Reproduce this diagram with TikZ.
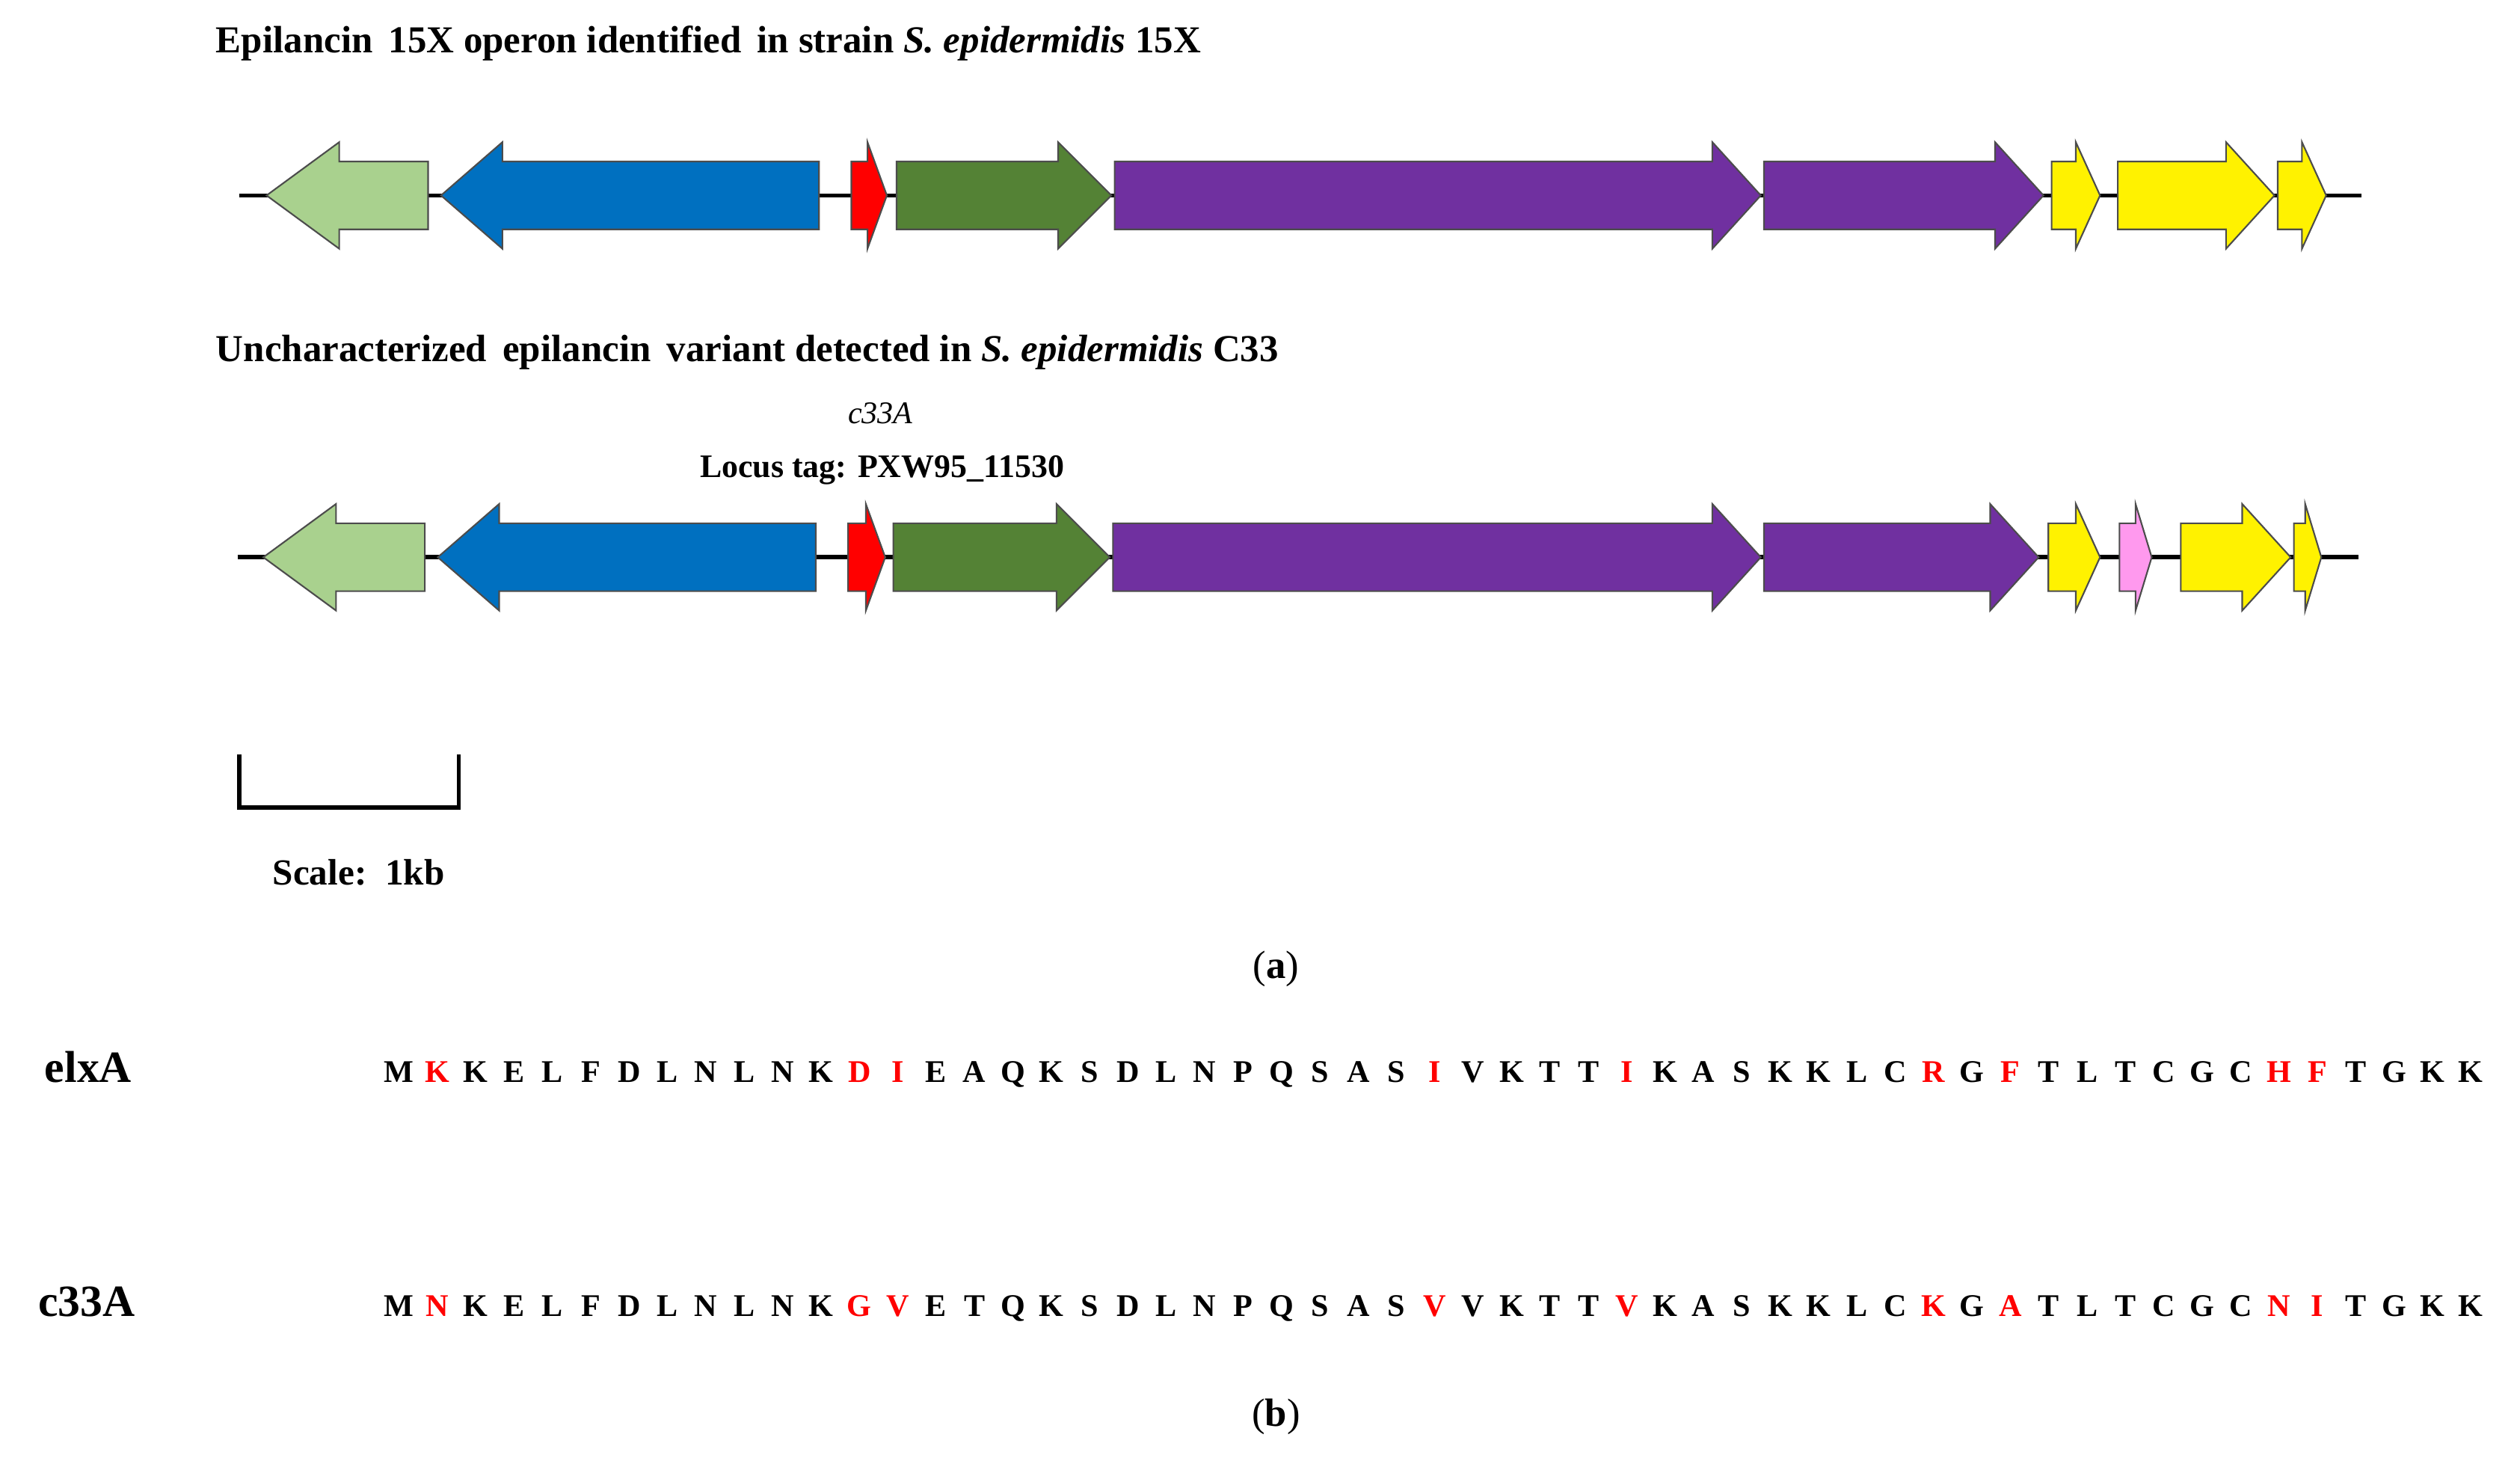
\documentclass[tikz,border=0pt]{standalone}
\usepackage{fontspec}
\setmainfont{Liberation Serif}
\usetikzlibrary{positioning}
\definecolor{lgreen}{HTML}{A9D18E}
\definecolor{oblue}{HTML}{0070C0}
\definecolor{dgreen}{HTML}{548235}
\definecolor{opurple}{HTML}{7030A0}
\definecolor{opink}{HTML}{FF99EE}
\newcommand\R{\color{red}}
% gene arrow: name, start, tip, row y, colour, head length
\newcommand\gene[6]{%
  \path[draw=black!70,fill=#5,line width=0.6pt] (#2,#4-21) coordinate (#1) -- ({#3-(#6)},#4-21) -- ({#3-(#6)},#4-33)
    -- (#3,#4) -- ({#3-(#6)},#4+33) -- ({#3-(#6)},#4+21) -- (#2,#4+21) -- cycle;}
\tikzset{title/.style={anchor=west,font=\bfseries\fontsize{14.5}{16}\selectfont},
  seq/.style={font=\bfseries\fontsize{12}{14}\selectfont,anchor=base},
  lab/.style={font=\bfseries\fontsize{17}{19}\selectfont,anchor=base west}}
\begin{document}
\begin{tikzpicture}[x=0.0216cm,y=-0.0216cm]
\useasboundingbox (0,0) rectangle (1560,906);
\node[title] (t1) at (128,27) {Epilancin\, 15X operon identified\, in strain \textit{S. epidermidis} 15X};
\node[title] (t2) at (128,218) {Uncharacterized\, epilancin\, variant detected in \textit{S. epidermidis} C33};
% row 1
\draw[line width=1.6pt] (148,121) -- (1462,121);
\gene{a1}{265}{165}{121}{lgreen}{-45}
\gene{b1}{507}{273}{121}{oblue}{-38}
\gene{c1}{527}{549}{121}{red}{12}
\gene{d1}{555}{688}{121}{dgreen}{33}
\gene{e1}{690}{1090}{121}{opurple}{30}
\gene{f1}{1092}{1265}{121}{opurple}{30}
\gene{g1}{1270}{1300}{121}{yellow}{15}
\gene{h1}{1311}{1408}{121}{yellow}{30}
\gene{i1}{1410}{1440}{121}{yellow}{15}
% row 2
\node[font=\itshape\fontsize{12}{14}\selectfont] (c33) at (545,256) {c33A};
\node[font=\bfseries\fontsize{12.5}{14}\selectfont] (tag) at (546,291) {Locus tag: PXW95\_11530};
\draw[line width=1.6pt] (147,345) -- (1460,345);
\gene{a2}{263}{163}{345}{lgreen}{-45}
\gene{b2}{505}{271}{345}{oblue}{-38}
\gene{c2}{525}{548}{345}{red}{12}
\gene{d2}{553}{687}{345}{dgreen}{33}
\gene{e2}{689}{1090}{345}{opurple}{30}
\gene{f2}{1092}{1262}{345}{opurple}{30}
\gene{g2}{1268}{1300}{345}{yellow}{15}
\gene{h2}{1312}{1332}{345}{opink}{10}
\gene{i2}{1350}{1418}{345}{yellow}{30}
\gene{j2}{1420}{1437}{345}{yellow}{10}
% scale bar
\draw[line width=1.6pt] (148,467) -- (148,500) -- (284,500) -- (284,467);
\node[font=\bfseries\fontsize{14}{16}\selectfont] (scale) at (222,540) {Scale:\, 1kb};
\node[font=\fontsize{15}{17}\selectfont] (pa) at (790,600) {(\textbf{a})};
\node[font=\fontsize{15}{17}\selectfont] (pb) at (790,877) {(\textbf{b})};
% sequences
\node[lab] (elx) at (22,670) {elxA};
\node[lab] (c33l) at (18,815) {c33A};
\foreach \c [count=\i] in {M,\R K,K,E,L,F,D,L,N,L,N,K,\R D,\R I,E,A,Q,K,S,D,L,N,P,Q,S,A,S,\R I,V,K,T,T,\R I,K,A,S,K,K,L,C,\R R,G,\R F,T,L,T,C,G,C,\R H,\R F,T,G,K,K}
  \node[seq] at ({247+(\i-1)*23.75},670) {\c};
\foreach \c [count=\i] in {M,\R N,K,E,L,F,D,L,N,L,N,K,\R G,\R V,E,T,Q,K,S,D,L,N,P,Q,S,A,S,\R V,V,K,T,T,\R V,K,A,S,K,K,L,C,\R K,G,\R A,T,L,T,C,G,C,\R N,\R I,T,G,K,K}
  \node[seq] at ({247+(\i-1)*23.75},815) {\c};
\end{tikzpicture}
\end{document}
